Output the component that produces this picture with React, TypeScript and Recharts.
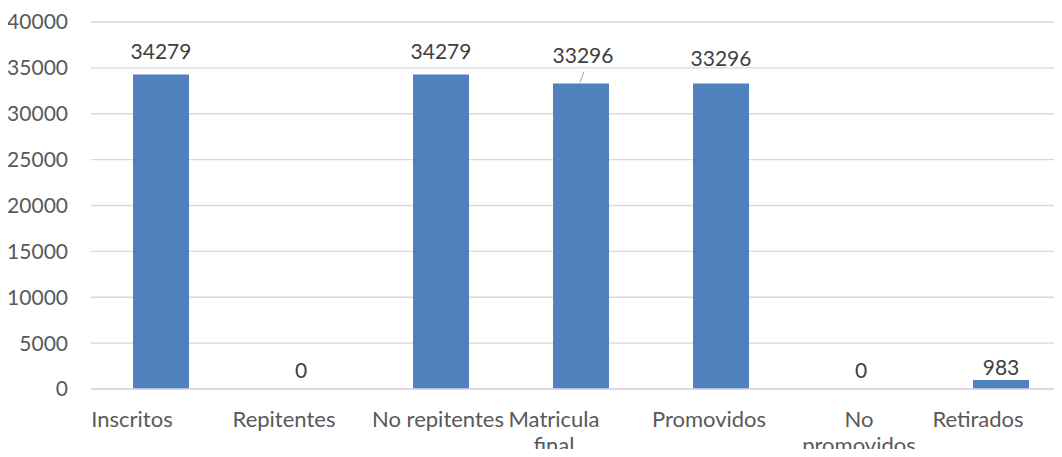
import { BarChart, Bar, XAxis, YAxis, CartesianGrid, LabelList, Cell } from 'recharts';

const categories = ['Inscritos', 'Repitentes', 'No repitentes', 'Matricula final', 'Promovidos', 'No promovidos', 'Retirados'];
const tickLines = [['Inscritos'], ['Repitentes'], ['No repitentes'], ['Matricula', 'final'], ['Promovidos'], ['No', 'promovidos'], ['Retirados']];
const values = [34279, 0, 34279, 33296, 33296, 0, 983];
const yTicks = [0, 5000, 10000, 15000, 20000, 25000, 30000, 35000, 40000];

// layout tweaks seen in the reference: label lift above bar top, tick label x shift
const labelLift = [15, 10, 15, 21, 18, 10, 5];
const tickShift = [-29, -17, -3, -27, -12, -2, -23];

const data = categories.map((name, i) => ({ name, value: values[i], idx: i }));

const FONT = 'Lato, sans-serif';

const XTick = ({ x, y, payload }: any) => {
    const i = payload.index;
    const lines = tickLines[i] || [payload.value];
    const tx = x + (tickShift[i] || 0);
    return (
        <text x={tx} y={y} textAnchor="middle" fill="#595959" fontFamily={FONT} fontSize={22}>
            {lines.map((l: string, k: number) => (
                <tspan key={k} x={tx} dy={k === 0 ? 30 : 26}>{l}</tspan>
            ))}
        </text>
    );
};

const BarLabel = ({ x, y, width, value, index }: any) => {
    const cx = x + width / 2;
    const lift = labelLift[index] ?? 15;
    if (index === 3) {
        return (
            <g>
                <line x1={cx - 1} y1={y - 1} x2={cx + 3} y2={y - 12} stroke="#a6a6a6" strokeWidth={1} />
                <text x={cx + 2} y={y - lift} textAnchor="middle" fill="#404040" fontFamily={FONT} fontSize={21}>{value}</text>
            </g>
        );
    }
    return (
        <text x={cx} y={y - lift} textAnchor="middle" fill="#404040" fontFamily={FONT} fontSize={21}>{value}</text>
    );
};

export default function App() {
    return (
        <div style={{ margin: -8, width: 1062, height: 457, overflow: 'hidden', background: '#fff' }}>
            <BarChart
                width={1080}
                height={457}
                data={data}
                margin={{ top: 22, right: 9, bottom: 0, left: 0 }}
                barCategoryGap="30%"
            >
                <CartesianGrid vertical={false} stroke="#d9d9d9" strokeWidth={1.3} />
                <XAxis
                    dataKey="name"
                    height={68}
                    interval={0}
                    tickLine={false}
                    axisLine={{ stroke: '#d9d9d9', strokeWidth: 1.3 }}
                    tick={<XTick />}
                />
                <YAxis
                    width={91}
                    domain={[0, 40000]}
                    ticks={yTicks}
                    interval={0}
                    axisLine={false}
                    tickLine={false}
                    tickSize={0}
                    tickMargin={23}
                    tick={{ fill: '#595959', fontFamily: FONT, fontSize: 21 }}
                />
                <Bar dataKey="value" fill="#4f81bd" barSize={56} minPointSize={1} isAnimationActive={false}>
                    {data.map((d) => (
                        <Cell key={d.idx} fill={d.value === 0 ? 'transparent' : '#4f81bd'} />
                    ))}
                    <LabelList dataKey="value" content={<BarLabel />} />
                </Bar>
            </BarChart>
        </div>
    );
}
